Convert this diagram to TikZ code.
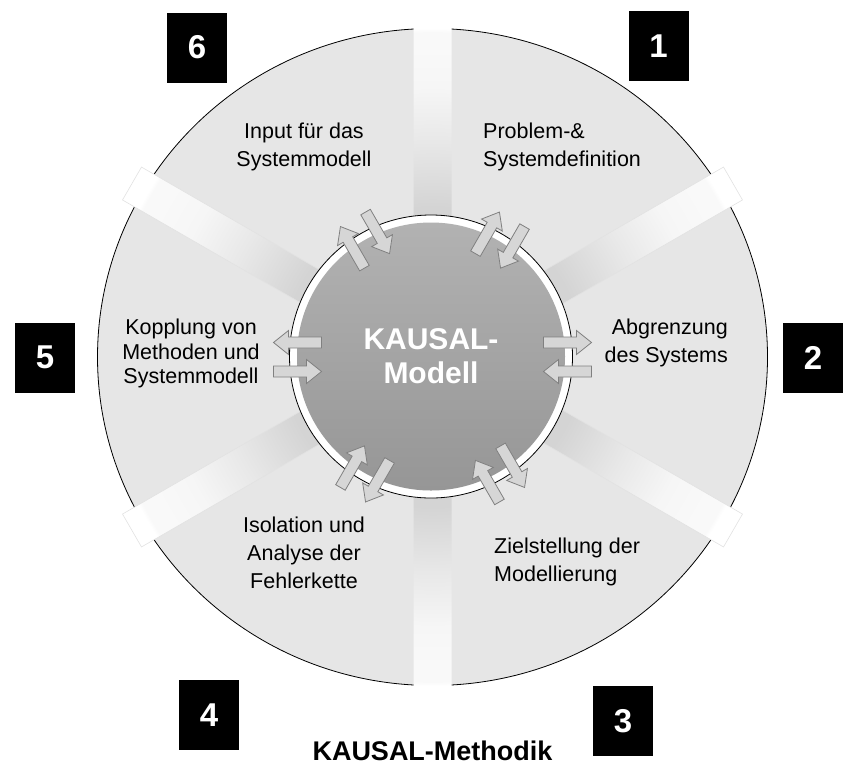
\documentclass[tikz,border=0pt]{standalone}
\usepackage{fontspec}
\setmainfont{Liberation Sans}
\usetikzlibrary{calc}

\definecolor{sectorfill}{RGB}{230,230,230}
\definecolor{barinner}{RGB}{212,212,212}
\definecolor{barmid}{RGB}{232,232,232}
\definecolor{barouter}{RGB}{246,246,246}
\definecolor{barend}{RGB}{249,249,249}
\definecolor{barline}{RGB}{226,226,226}
\definecolor{disktop}{RGB}{178,178,178}
\definecolor{diskbottom}{RGB}{150,150,150}
\definecolor{arrowfill}{RGB}{214,214,214}
\definecolor{arrowline}{RGB}{128,128,128}

% spokes fade from grey at the hub to white at the rim
% (25bp corresponds to the radius of the shaded circle)
\pgfdeclareradialshading{barfade}{\pgfpoint{0bp}{0bp}}{color(0bp)=(barinner); color(10.7bp)=(barinner); color(15.4bp)=(barmid); color(19.3bp)=(barouter); color(22.1bp)=(barend); color(23.2bp)=(barend); color(23.5bp)=(white); color(50bp)=(white)}

\tikzset{
  blockarrow/.pic={
    \path[fill=arrowfill, draw=arrowline, line width=0.8pt, line join=miter]
      (-24pt,-5.5pt) -- (9pt,-5.5pt) -- (9pt,-12pt) -- (24pt,0pt) --
      (9pt,12pt) -- (9pt,5.5pt) -- (-24pt,5.5pt) -- cycle;
  },
  lbl/.style={font=\fontsize{21.5}{28}\selectfont, inner sep=0pt},
  numbox/.style={fill=black, text=white, font=\bfseries\fontsize{33}{33}\selectfont,
    minimum width=60pt, minimum height=70pt, inner sep=0pt},
  hubtext/.style={text=white, font=\bfseries\fontsize{30}{34}\selectfont,
    align=center, inner sep=0pt}
}

\begin{document}
\begin{tikzpicture}[x=1pt, y=-1pt]
\useasboundingbox (0,0) rectangle (843,764);
\coordinate (C) at (432.5,357);
\coordinate (D) at (431,356.5);

% outer wheel
\path[fill=sectorfill, draw=black, line width=0.8pt] (C) ellipse [x radius=335pt, y radius=328.5pt];

% six spokes separating the sectors
\begin{scope}
  \clip \foreach \a in {90,30,-30,-90,-150,150} {
    ($(C)+({\a+90}:19pt)$) -- ($(C)+({\a+90}:19pt)+(\a:347pt)$) --
    ($(C)+({\a-90}:19pt)+(\a:347pt)$) -- ($(C)+({\a-90}:19pt)$) -- cycle };
  \shade[shading=barfade] (C) circle[radius=350pt];
\end{scope}
% faint edges of the slanted spokes
\foreach \a in {30,-30,-150,150} {
  \draw[barline, line width=0.6pt]
    ($(C)+({\a+90}:19pt)$) -- ($(C)+({\a+90}:19pt)+(\a:347pt)$) --
    ($(C)+({\a-90}:19pt)+(\a:347pt)$) -- ($(C)+({\a-90}:19pt)$);
}

% hub
\path[fill=white, draw=black, line width=0.8pt] (D) circle[radius=141.5pt];
\shade[top color=disktop, bottom color=diskbottom] (D) circle[radius=134pt];
\node[hubtext, anchor=north] (hub) at (431,328.5) {KAUSAL-\\Modell};

% exchange arrows between hub and sectors
\foreach \a/\s in {60/1, 0/1, -60/1, -120/1, 180/-1, 120/1} {
  \pic[rotate=\a] at ($(C)+(\a:135pt)+({\a+\s*90}:14.5pt)$) {blockarrow};
  \pic[rotate={\a+180}] at ($(C)+(\a:135pt)+({\a-\s*90}:14.5pt)$) {blockarrow};
}

% sector labels
\node[lbl, align=center, anchor=north] (l6) at (304,123) {Input für das\\Systemmodell};
\node[lbl, align=left, anchor=north west] (l1) at (483,123) {Problem-\&\\Systemdefinition};
\node[lbl, align=right, anchor=north east] (l2) at (728,319) {Abgrenzung\\des Systems};
\node[lbl, align=center, anchor=north, font=\fontsize{21.5}{24.5}\selectfont] (l5) at (191,319) {Kopplung von\\Methoden und\\Systemmodell};
\node[lbl, align=center, anchor=north] (l4) at (304,517) {Isolation und\\Analyse der\\Fehlerkette};
\node[lbl, align=left, anchor=north west] (l3) at (494,538) {Zielstellung der\\Modellierung};

% step numbers
\node[numbox] (n1) at (658.5,46) {1};
\node[numbox] (n2) at (813,358) {2};
\node[numbox] (n3) at (623,721) {3};
\node[numbox] (n4) at (209,715) {4};
\node[numbox] (n5) at (45,357.5) {5};
\node[numbox] (n6) at (197,47.5) {6};

% caption
\node[font=\bfseries\fontsize{27}{27}\selectfont, anchor=base] (title) at (432.5,760) {KAUSAL-Methodik};
\end{tikzpicture}
\end{document}
